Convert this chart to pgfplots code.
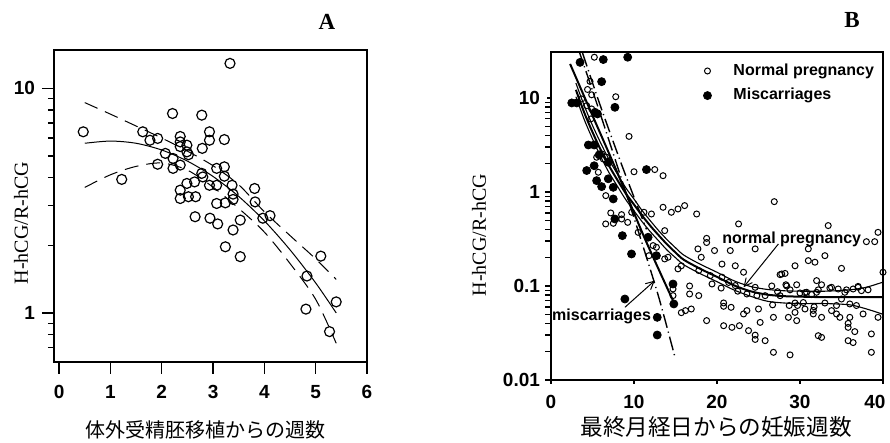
\documentclass[border=0pt]{standalone}
\usepackage{fontspec}
\setmainfont{Liberation Serif}
\newfontfamily\sansf{Liberation Sans}
\newfontfamily\jp{Noto Sans CJK JP}
\usepackage{pgfplots}
\pgfplotsset{compat=1.18}
\usepackage{pgfplotstable}
\usetikzlibrary{arrows.meta}

% panel A: IVF data
\pgfplotstableread{
x y
0.47 6.40
1.22 3.93
1.63 6.40
1.77 5.87
1.92 5.98
2.21 7.72
2.78 7.59
2.36 6.10
2.36 5.77
2.36 5.50
2.49 5.58
2.49 5.21
2.52 5.06
2.93 6.40
2.93 5.87
2.79 5.40
3.22 5.91
2.07 5.13
2.22 4.87
1.92 4.59
2.22 4.40
2.36 4.55
3.07 4.40
3.22 4.47
2.78 4.18
2.80 4.03
2.64 3.83
2.49 3.77
2.93 3.70
3.07 3.70
3.22 4.06
3.37 3.70
2.36 3.52
2.36 3.23
2.52 3.29
2.66 3.29
3.39 3.38
3.39 3.20
3.07 3.07
3.24 3.09
3.81 3.58
3.82 3.12
2.65 2.68
2.94 2.64
3.09 2.49
3.39 2.34
3.53 2.59
3.97 2.64
4.11 2.71
3.24 1.97
3.53 1.78
5.10 1.79
4.83 1.46
5.40 1.12
4.81 1.04
5.27 0.826
3.33 12.9
}\ivf

\pgfplotstableread{
x mid up lo
0.5 5.69 8.63 3.62
1.0 5.82 7.67 4.12
1.5 5.69 6.79 4.49
2.0 5.31 6.00 4.65
2.5 4.74 5.25 4.32
3.0 4.05 4.52 3.63
3.5 3.30 3.72 2.92
4.0 2.57 2.82 2.29
4.5 1.91 2.21 1.66
5.0 1.36 1.74 1.15
5.4 1.00 1.41 0.733
}\ivffit

% panel B: normal pregnancy
\pgfplotstableread{
x y
5.22 27.1
4.7 15.0
4.4 12.3
4.9 10.8
7.8 10.3
3.7 9.76
4.3 8.28
4.9 7.64
4.8 5.98
9.4 3.90
6.1 2.54
6.3 2.24
5.5 2.34
6.7 2.34
5.7 1.62
10.0 1.64
12.5 1.73
13.5 1.49
6.6 0.914
7.2 0.598
8.5 0.574
6.59 0.457
7.51 0.464
8.51 0.516
9.24 0.475
9.72 0.608
11.2 0.608
12.1 0.583
13.5 0.687
14.5 0.608
15.3 0.659
16.1 0.716
17.55 0.583
13.7 0.388
10.5 0.372
12.3 0.269
12.7 0.258
11.8 0.210
13.7 0.194
14.1 0.202
15.3 0.152
14.7 0.093
14.7 0.079
15.7 0.164
15.7 0.052
16.2 0.0547
16.9 0.0569
16.7 0.0822
17.8 0.079
17.7 0.248
18.1 0.202
18.75 0.321
18.75 0.290
18.75 0.0428
19.7 0.238
20.6 0.171
21.6 0.238
22.2 0.164
22.6 0.457
23.2 0.140
24.6 0.248
20.8 0.0608
20.8 0.066
21.7 0.0593
20.8 0.0378
21.8 0.0363
22.7 0.0378
23.8 0.0335
24.6 0.0300
24.6 0.0270
25.2 0.041
25.8 0.0262
26.8 0.0197
28.8 0.0185
23.2 0.0504
23.6 0.0547
26.9 0.789
33.4 0.439
31.0 0.248
33.0 0.210
39.4 0.372
38.0 0.296
39.0 0.296
35.0 0.154
31.0 0.186
31.8 0.179
29.4 0.164
27.6 0.132
28.2 0.136
27.8 0.134
28.3 0.103
29.6 0.103
32.0 0.114
32.6 0.103
33.8 0.0968
37.0 0.0968
40.0 0.140
39.4 0.0464
37.6 0.0504
38.6 0.0309
38.6 0.0197
35.8 0.0363
35.8 0.0400
36.6 0.0327
35.8 0.0262
36.4 0.025
32.2 0.0296
32.6 0.0284
34.8 0.0464
36.0 0.0464
32.6 0.0464
31.6 0.0504
31.6 0.0550
30.6 0.0569
29.6 0.0428
28.6 0.0464
29.4 0.0524
26.8 0.0464
33.8 0.0547
34.4 0.0504
25.0 0.0569
26.6 0.100
27.6 0.0789
30.0 0.0843
30.8 0.0857
32.0 0.0857
34.6 0.0929
35.4 0.0857
36.4 0.0929
37.4 0.0891
29.4 0.0659
30.4 0.0667
33.0 0.0659
35.0 0.0727
36.0 0.0644
20.6 0.124
21.4 0.109
22.2 0.101
23.6 0.0822
24.8 0.0789
25.8 0.0789
24.6 0.0968
19.2 0.129
17.8 0.146
16.7 0.100
19.4 0.105
20.5 0.095
22.5 0.088
27.3 0.087
28.4 0.100
28.8 0.091
30.6 0.085
31.4 0.081
32.2 0.091
33.6 0.095
35.6 0.091
37.0 0.099
38.2 0.091
26.7 0.063
28.7 0.062
29.7 0.062
31.7 0.060
34.4 0.062
36.8 0.062
}\normal

% panel B: miscarriages
\pgfplotstableread{
x y
3.5 23.9
6.3 25.6
9.24 27.1
6.1 14.9
2.5 8.85
3.1 8.85
5.3 7.04
5.6 6.76
7.7 7.95
4.5 3.16
5.2 3.16
5.8 2.48
6.9 2.07
4.3 1.69
5.2 1.90
5.5 1.32
6.1 1.14
6.9 1.38
7.5 1.12
7.5 0.843
7.7 0.516
8.6 0.343
9.7 0.219
11.5 1.73
11.7 0.33
12.7 0.21
8.9 0.0727
14.7 0.105
14.8 0.0644
12.8 0.0464
12.8 0.0301
}\misc

\pgfplotstableread{
x mid up lo
3 12.2 14.4 10.3
4 7.0 8.3 5.9
5 4.33 5.1 3.67
6 2.79 3.3 2.36
7 1.89 2.2 1.6
8 1.34 1.55 1.15
9 0.968 1.11 0.83
10 0.735 0.84 0.63
11 0.557 0.63 0.48
12 0.433 0.49 0.375
13 0.344 0.385 0.30
14 0.276 0.31 0.24
15 0.227 0.255 0.20
16 0.190 0.213 0.168
18 0.152 0.17 0.135
20 0.125 0.14 0.111
22 0.102 0.114 0.091
24 0.088 0.099 0.078
26 0.081 0.092 0.069
28 0.078 0.089 0.066
30 0.077 0.088 0.065
33 0.076 0.088 0.065
36 0.076 0.091 0.063
38 0.076 0.097 0.057
40 0.076 0.110 0.050
}\normfit

\pgfplotsset{
  scan/.style={
    scale only axis, axis line style={line width=0.8pt},
    tick style={black, line width=0.7pt}, tick align=outside,
    xtick pos=left, ytick pos=left,
    ticklabel style={font=\sansf\bfseries\fontsize{9.5}{11}\selectfont},
    /pgf/number format/assume math mode=true,
  },
}

\begin{document}
\begin{tikzpicture}
\path[use as bounding box] (0,0) rectangle (445pt,221.5pt);

\begin{axis}[scan,
  at={(27pt,40.5pt)}, anchor=south west,
  width=156.5pt, height=156pt,
  xmin=-0.1, xmax=6, ymode=log, ymin=0.605, ymax=14.8,
  xtick={0,1,2,3,4,5,6},
  ytick={1,10}, yticklabels={1,10},
  minor ytick={0.6,0.7,0.8,0.9,2,3,4,5,6,7,8,9},
  major tick length=6pt, minor tick length=3pt,
  xticklabel style={yshift=-2pt},
]
\addplot[only marks, mark=o, mark size=2.5pt, mark options={line width=0.6pt}] table {\ivf};
\addplot[line width=0.5pt, smooth] table[x=x, y=mid] {\ivffit};
\addplot[line width=0.5pt, smooth, dash pattern=on 7pt off 4pt] table[x=x, y=up] {\ivffit};
\addplot[line width=0.5pt, smooth, dash pattern=on 7pt off 4pt] table[x=x, y=lo] {\ivffit};
\end{axis}

\begin{axis}[scan,
  at={(275.5pt,31.5pt)}, anchor=south west,
  width=166pt, height=164pt,
  xmin=0, xmax=40, ymode=log, ymin=0.01, ymax=30.8,
  xtick={0,10,20,30,40}, xticklabels={0,10,20,30,{40\rule{8pt}{0pt}}},
  ytick={0.01,0.1,1,10}, yticklabels={0.01,0.1,1,10},
  minor ytick={}, major tick length=2pt,
  xticklabel style={yshift=-2pt},
  axis line style={line width=1pt},
  legend style={at={(0.44,0.99)}, anchor=north west, draw=none, fill=none,
    font=\sansf\bfseries\fontsize{8}{10}\selectfont, row sep=1pt,
    /tikz/every odd column/.append style={column sep=9pt}},
  legend cell align=left,
]
\addplot[only marks, mark=o, mark size=1.5pt, mark options={line width=0.5pt}] table {\normal};
\addlegendentry{Normal pregnancy}
\addplot[only marks, mark=*, mark size=2pt] table {\misc};
\addlegendentry{Miscarriages}
% normal pregnancy fit and band
\addplot[forget plot, line width=1pt, smooth] table[x=x, y=mid] {\normfit};
\addplot[forget plot, line width=0.55pt, smooth] table[x=x, y=up] {\normfit};
\addplot[forget plot, line width=0.55pt, smooth] table[x=x, y=lo] {\normfit};
% miscarriage fit and limits
\addplot[forget plot, line width=1pt, smooth] coordinates {(2.3,23) (5,6.5) (8,1.6) (11.3,0.32) (14.9,0.064)};
\addplot[forget plot, line width=0.7pt, smooth, dash pattern=on 7pt off 2pt on 0.6pt off 2pt]
  coordinates {(3.3,33) (5,12) (7,3.5) (9,1.0) (11,0.28) (13,0.075) (14.9,0.018)};
\addplot[forget plot, line width=0.7pt, smooth, dash pattern=on 7pt off 2pt on 0.6pt off 2pt]
  coordinates {(3.8,30) (6,8) (8.7,1.76) (11.5,0.40)};
% annotations
\node[anchor=west, font=\sansf\bfseries\fontsize{8}{10}\selectfont, inner sep=0pt] at (axis cs:20.6,0.316) {normal pregnancy};
\draw[line width=0.5pt, -{Straight Barb[length=4pt,width=4pt]}] (axis cs:27.4,0.28) -- (axis cs:23.2,0.097);
\node[anchor=west, font=\sansf\bfseries\fontsize{8}{10}\selectfont, inner sep=0pt] at (axis cs:0.1,0.048) {miscarriages};
\draw[line width=0.5pt, -{Straight Barb[length=4pt,width=4pt]}] (axis cs:8.9,0.0593) -- (axis cs:12.5,0.114);
\end{axis}

% titles and axis labels
\node[font=\bfseries\fontsize{11.5}{13}\selectfont] at (163.5pt,210.5pt) {A};
\node[font=\bfseries\fontsize{11.5}{13}\selectfont] at (426pt,211.5pt) {B};
\node[rotate=90, font=\fontsize{10}{12}\selectfont] at (10.5pt,110pt) {H-hCG/R-hCG};
\node[rotate=90, font=\fontsize{10}{12}\selectfont] at (239.5pt,104pt) {H-hCG/R-hCG};
\node[font=\jp\fontsize{10}{12}\selectfont] at (102.75pt,6.5pt) {体外受精胚移植からの週数};
\node[font=\jp\fontsize{11.3}{13}\selectfont] at (358pt,8pt) {最終月経日からの妊娠週数};
\end{tikzpicture}
\end{document}
